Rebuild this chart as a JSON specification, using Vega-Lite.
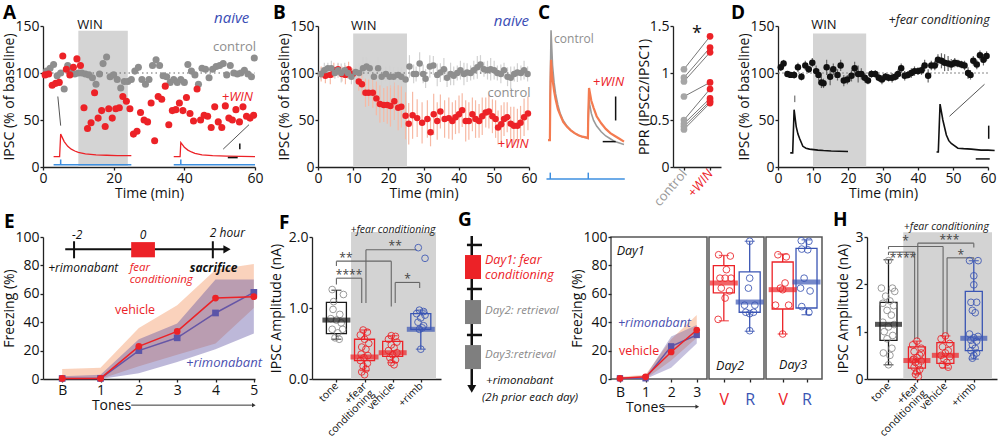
{
"$schema": "https://vega.github.io/schema/vega-lite/v6.json",
"background": "white",
"padding": {"left": 2, "top": 4, "right": 0, "bottom": 0},
"config": {
  "view": {"stroke": null},
  "font": "Open Sans",
  "axis": {"grid": false, "domainColor": "#222", "tickColor": "#222", "labelColor": "#111", "titleColor": "#111", "labelFontSize": 14, "titleFontSize": 14, "titleFontWeight": "normal", "labelFont": "Open Sans", "titleFont": "Open Sans", "domainWidth": 1.3, "tickWidth": 1.3, "tickSize": 3, "labelPadding": 1, "titlePadding": 0, "labelFlush": false, "labelOverlap": false},
  "axisY": {"titlePadding": -2},
  "axisX": {"titlePadding": 1},
  "title": {"fontSize": 19, "fontWeight": "bold", "anchor": "start", "font": "Open Sans", "color": "#000", "baseline": "alphabetic", "frame": "group"}
},
"spacing": 1,
"resolve": {"scale": {"color": "independent"}},
"vconcat": [
{
"bounds": "flush",
"spacing": 2,
"resolve": {"scale": {"color": "independent"}},
"hconcat": [
{
 "width": 212, "height": 141,
 "title": {"text": "A", "dx": -40, "offset": -12},
 "encoding": {
  "x": {"field": "x", "type": "quantitative", "scale": {"domain": [0, 60], "nice": false, "zero": false}, "axis": {"values": [0, 20, 40, 60], "title": "Time (min)"}},
  "y": {"field": "y", "type": "quantitative", "scale": {"domain": [0, 150], "nice": false, "zero": false}, "axis": {"values": [0, 50, 100, 150], "title": "IPSC (% of baseline)"}}
 },
 "layer": [
  {"data": {"values": [{"x": 10, "y": 0, "x2": 24, "y2": 145}]}, "mark": {"type": "rect", "color": "#d4d4d4"}, "encoding": {"x2": {"field": "x2"}, "y2": {"field": "y2"}}},
  {"data": {"values": [{"x": 0, "y": 100, "x2": 60, "y2": 100}]}, "mark": {"type": "rule", "color": "#666", "strokeDash": [1.5, 3], "strokeWidth": 1.2}, "encoding": {"x2": {"field": "x2"}, "y2": {"field": "y2"}}},
  {"data": {"values": [
    {"x": 3, "y": 11, "s": "a"}, {"x": 4.7, "y": 11, "s": "a"}, {"x": 5, "y": 35, "s": "a"}, {"x": 5.5, "y": 31, "s": "a"}, {"x": 6, "y": 27, "s": "a"}, {"x": 7, "y": 22, "s": "a"}, {"x": 8, "y": 19, "s": "a"}, {"x": 9, "y": 17, "s": "a"}, {"x": 10, "y": 15.5, "s": "a"}, {"x": 12, "y": 14, "s": "a"}, {"x": 15, "y": 13, "s": "a"}, {"x": 18, "y": 12.5, "s": "a"}, {"x": 21, "y": 12.2, "s": "a"}, {"x": 25, "y": 12, "s": "a"},
    {"x": 37, "y": 11, "s": "b"}, {"x": 38.8, "y": 11, "s": "b"}, {"x": 39, "y": 26, "s": "b"}, {"x": 39.5, "y": 23.5, "s": "b"}, {"x": 40, "y": 21, "s": "b"}, {"x": 41, "y": 18, "s": "b"}, {"x": 42, "y": 16, "s": "b"}, {"x": 43, "y": 14.5, "s": "b"}, {"x": 45, "y": 13, "s": "b"}, {"x": 48, "y": 12, "s": "b"}, {"x": 52, "y": 11.5, "s": "b"}, {"x": 56, "y": 11.2, "s": "b"}, {"x": 60, "y": 11, "s": "b"}
  ]}, "mark": {"type": "line", "color": "#ec2227", "strokeWidth": 1.3}, "encoding": {"detail": {"field": "s", "type": "nominal"}}},
  {"data": {"values": [{"x": 3, "y": 2.5, "x2": 25, "y2": 2.5}, {"x": 5, "y": 2.5, "x2": 5, "y2": 8}, {"x": 37, "y": 2.5, "x2": 60, "y2": 2.5}, {"x": 39, "y": 2.5, "x2": 39, "y2": 8}]}, "mark": {"type": "rule", "color": "#3d8fe0", "strokeWidth": 1.5}, "encoding": {"x2": {"field": "x2"}, "y2": {"field": "y2"}}},
  {"data": {"values": [{"x": 4.2, "y": 75, "x2": 5, "y2": 44}, {"x": 58.3, "y": 45, "x2": 51, "y2": 19}]}, "mark": {"type": "rule", "color": "#555", "strokeWidth": 1}, "encoding": {"x2": {"field": "x2"}, "y2": {"field": "y2"}}},
  {"data": {"values": [{"x": 55.7, "y": 19, "x2": 55.7, "y2": 25}, {"x": 52.3, "y": 10, "x2": 55.1, "y2": 10}]}, "mark": {"type": "rule", "color": "#111", "strokeWidth": 1.5}, "encoding": {"x2": {"field": "x2"}, "y2": {"field": "y2"}}},
  {"data": {"values": [
    {"x": 1, "y": 102, "g": "c"}, {"x": 2, "y": 105, "g": "c"}, {"x": 3, "y": 109, "g": "c"}, {"x": 4, "y": 97, "g": "c"}, {"x": 5, "y": 100, "g": "c"}, {"x": 6, "y": 83, "g": "c"}, {"x": 7, "y": 108, "g": "c"}, {"x": 8, "y": 104, "g": "c"}, {"x": 9, "y": 99, "g": "c"}, {"x": 10, "y": 100, "g": "c"},
    {"x": 11, "y": 100, "g": "c"}, {"x": 12, "y": 99, "g": "c"}, {"x": 13, "y": 98, "g": "c"}, {"x": 14, "y": 95, "g": "c"}, {"x": 15, "y": 88, "g": "c"}, {"x": 16, "y": 99, "g": "c"}, {"x": 17, "y": 110, "g": "c"}, {"x": 18, "y": 117, "g": "c"}, {"x": 19, "y": 96, "g": "c"}, {"x": 20, "y": 98, "g": "c"},
    {"x": 21, "y": 93, "g": "c"}, {"x": 22, "y": 84, "g": "c"}, {"x": 23, "y": 91, "g": "c"}, {"x": 24, "y": 91, "g": "c"}, {"x": 25, "y": 93, "g": "c"}, {"x": 26, "y": 102, "g": "c"}, {"x": 27, "y": 106, "g": "c"}, {"x": 28, "y": 93, "g": "c"}, {"x": 29, "y": 88, "g": "c"}, {"x": 30, "y": 93, "g": "c"},
    {"x": 31, "y": 108, "g": "c"}, {"x": 32, "y": 114, "g": "c"}, {"x": 33, "y": 108, "g": "c"}, {"x": 34, "y": 97, "g": "c"}, {"x": 35, "y": 96, "g": "c"}, {"x": 36, "y": 90, "g": "c"}, {"x": 37, "y": 93, "g": "c"}, {"x": 38, "y": 90, "g": "c"}, {"x": 39, "y": 93, "g": "c"}, {"x": 40, "y": 90, "g": "c"},
    {"x": 41, "y": 109, "g": "c"}, {"x": 42, "y": 102, "g": "c"}, {"x": 43, "y": 98, "g": "c"}, {"x": 44, "y": 88, "g": "c"}, {"x": 45, "y": 105, "g": "c"}, {"x": 46, "y": 104, "g": "c"}, {"x": 47, "y": 95, "g": "c"}, {"x": 48, "y": 104, "g": "c"}, {"x": 49, "y": 107, "g": "c"}, {"x": 50, "y": 108, "g": "c"},
    {"x": 51, "y": 110, "g": "c"}, {"x": 52, "y": 98, "g": "c"}, {"x": 53, "y": 108, "g": "c"}, {"x": 54, "y": 100, "g": "c"}, {"x": 55, "y": 99, "g": "c"}, {"x": 56, "y": 100, "g": "c"}, {"x": 57, "y": 103, "g": "c"}, {"x": 58, "y": 99, "g": "c"}, {"x": 59, "y": 96, "g": "c"}, {"x": 59.8, "y": 116, "g": "c"},
    {"x": 0.6, "y": 98, "g": "w"}, {"x": 1.6, "y": 99, "g": "w"}, {"x": 2.6, "y": 87, "g": "w"}, {"x": 3.6, "y": 89, "g": "w"}, {"x": 4.6, "y": 90, "g": "w"}, {"x": 5.6, "y": 118, "g": "w"}, {"x": 6.6, "y": 104, "g": "w"}, {"x": 7.6, "y": 98, "g": "w"}, {"x": 8.6, "y": 106, "g": "w"}, {"x": 9.6, "y": 115, "g": "w"},
    {"x": 10.6, "y": 108, "g": "w"}, {"x": 11.6, "y": 63, "g": "w"}, {"x": 12.6, "y": 41, "g": "w"}, {"x": 13.6, "y": 47, "g": "w"}, {"x": 14.6, "y": 79, "g": "w"}, {"x": 15.6, "y": 52, "g": "w"}, {"x": 16.6, "y": 60, "g": "w"}, {"x": 17.6, "y": 43, "g": "w"}, {"x": 18.6, "y": 62, "g": "w"}, {"x": 19.6, "y": 52, "g": "w"},
    {"x": 20.6, "y": 62, "g": "w"}, {"x": 21.6, "y": 63, "g": "w"}, {"x": 22.6, "y": 75, "g": "w"}, {"x": 23.6, "y": 70, "g": "w"}, {"x": 24.6, "y": 62, "g": "w"}, {"x": 25.6, "y": 35, "g": "w"}, {"x": 26.6, "y": 38, "g": "w"}, {"x": 27.6, "y": 58, "g": "w"}, {"x": 28.6, "y": 50, "g": "w"}, {"x": 29.6, "y": 48, "g": "w"},
    {"x": 30.6, "y": 68, "g": "w"}, {"x": 31.6, "y": 28, "g": "w"}, {"x": 32.6, "y": 75, "g": "w"}, {"x": 33.6, "y": 72, "g": "w"}, {"x": 34.6, "y": 86, "g": "w"}, {"x": 35.6, "y": 45, "g": "w"}, {"x": 36.6, "y": 60, "g": "w"}, {"x": 37.6, "y": 61, "g": "w"}, {"x": 38.6, "y": 68, "g": "w"}, {"x": 39.6, "y": 60, "g": "w"},
    {"x": 40.6, "y": 74, "g": "w"}, {"x": 41.6, "y": 57, "g": "w"}, {"x": 42.6, "y": 49, "g": "w"}, {"x": 43.6, "y": 83, "g": "w"}, {"x": 44.6, "y": 50, "g": "w"}, {"x": 45.6, "y": 55, "g": "w"}, {"x": 46.6, "y": 54, "g": "w"}, {"x": 47.6, "y": 42, "g": "w"}, {"x": 48.6, "y": 64, "g": "w"}, {"x": 49.6, "y": 48, "g": "w"},
    {"x": 50.6, "y": 42, "g": "w"}, {"x": 51.6, "y": 65, "g": "w"}, {"x": 52.6, "y": 52, "g": "w"}, {"x": 53.6, "y": 50, "g": "w"}, {"x": 54.6, "y": 61, "g": "w"}, {"x": 55.6, "y": 48, "g": "w"}, {"x": 56.6, "y": 64, "g": "w"}, {"x": 57.6, "y": 54, "g": "w"}, {"x": 58.6, "y": 52, "g": "w"}, {"x": 59.6, "y": 55, "g": "w"}
  ]}, "mark": {"type": "circle", "size": 50, "opacity": 1}, "encoding": {"color": {"field": "g", "type": "nominal", "scale": {"domain": ["c", "w"], "range": ["#8e8e8e", "#ec2227"]}, "legend": null}}},
  {"data": {"values": [{"x": 13.3, "y": 151, "t": "WIN"}]}, "mark": {"type": "text", "fontSize": 13, "color": "#111"}, "encoding": {"text": {"field": "t"}}},
  {"data": {"values": [{"x": 53.4, "y": 158, "t": "naive"}]}, "mark": {"type": "text", "fontSize": 15, "fontStyle": "italic", "color": "#3a4db5"}, "encoding": {"text": {"field": "t"}}},
  {"data": {"values": [{"x": 54.2, "y": 128, "t": "control"}]}, "mark": {"type": "text", "fontSize": 13, "color": "#8e8e8e"}, "encoding": {"text": {"field": "t"}}},
  {"data": {"values": [{"x": 55, "y": 75, "t": "+WIN"}]}, "mark": {"type": "text", "fontSize": 13, "fontStyle": "italic", "color": "#ec2227"}, "encoding": {"text": {"field": "t"}}}
 ]
},
{"width": 59, "height": 141, "data": {"values": []}, "mark": {"type": "point", "opacity": 0}, "encoding": {}},
{
 "width": 211, "height": 141,
 "title": {"text": "B", "dx": -45, "offset": -9},
 "encoding": {
  "x": {"field": "x", "type": "quantitative", "scale": {"domain": [0, 60], "nice": false, "zero": false}, "axis": {"values": [0, 10, 20, 30, 40, 50, 60], "title": "Time (min)"}},
  "y": {"field": "y", "type": "quantitative", "scale": {"domain": [0, 150], "nice": false, "zero": false}, "axis": {"values": [0, 50, 100, 150], "title": "IPSC (% of baseline)"}}
 },
 "layer": [
  {"data": {"values": [{"x": 10, "y": 0, "x2": 25.3, "y2": 142}]}, "mark": {"type": "rect", "color": "#d4d4d4"}, "encoding": {"x2": {"field": "x2"}, "y2": {"field": "y2"}}},
  {"data": {"values": [
    {"x": 0.9, "y": 99, "lo": 91, "hi": 107, "g": "w"}, {"x": 2.1, "y": 97, "lo": 89, "hi": 105, "g": "w"}, {"x": 3.5, "y": 98, "lo": 88, "hi": 108, "g": "w"}, {"x": 4.5, "y": 103, "lo": 95, "hi": 111, "g": "w"}, {"x": 5.7, "y": 104, "lo": 98, "hi": 110, "g": "w"}, {"x": 6.8, "y": 99, "lo": 91, "hi": 107, "g": "w"}, {"x": 7.8, "y": 98, "lo": 88, "hi": 108, "g": "w"}, {"x": 8.7, "y": 104, "lo": 96, "hi": 112, "g": "w"}, {"x": 9.9, "y": 99, "lo": 93, "hi": 105, "g": "w"},
    {"x": 11.6, "y": 91, "lo": 81, "hi": 101, "g": "w"}, {"x": 12.5, "y": 88, "lo": 76, "hi": 100, "g": "w"}, {"x": 13.5, "y": 79, "lo": 64, "hi": 94, "g": "w"}, {"x": 14.4, "y": 79, "lo": 65, "hi": 93, "g": "w"}, {"x": 15.6, "y": 79, "lo": 63, "hi": 95, "g": "w"}, {"x": 16.6, "y": 73, "lo": 55, "hi": 91, "g": "w"}, {"x": 17.6, "y": 67, "lo": 47, "hi": 87, "g": "w"}, {"x": 18.7, "y": 66, "lo": 48, "hi": 84, "g": "w"}, {"x": 19.7, "y": 66, "lo": 46, "hi": 86, "g": "w"}, {"x": 20.6, "y": 65, "lo": 43, "hi": 87, "g": "w"},
    {"x": 21.7, "y": 70, "lo": 50, "hi": 90, "g": "w"}, {"x": 22.8, "y": 63, "lo": 39, "hi": 87, "g": "w"}, {"x": 23.7, "y": 64, "lo": 42, "hi": 86, "g": "w"}, {"x": 24.9, "y": 54.5, "lo": 29.5, "hi": 79.5, "g": "w"}, {"x": 25.8, "y": 46, "lo": 24, "hi": 68, "g": "w"}, {"x": 26.9, "y": 55, "lo": 30, "hi": 80, "g": "w"}, {"x": 28.2, "y": 52, "lo": 32, "hi": 72, "g": "w"}, {"x": 29.6, "y": 47, "lo": 25, "hi": 69, "g": "w"}, {"x": 31.1, "y": 51, "lo": 31, "hi": 71, "g": "w"}, {"x": 32, "y": 37, "lo": 22, "hi": 52, "g": "w"},
    {"x": 32.9, "y": 56, "lo": 34, "hi": 78, "g": "w"}, {"x": 33.9, "y": 49, "lo": 29, "hi": 69, "g": "w"}, {"x": 34.8, "y": 59, "lo": 41, "hi": 77, "g": "w"}, {"x": 36, "y": 51, "lo": 31, "hi": 71, "g": "w"}, {"x": 37.2, "y": 52, "lo": 30, "hi": 74, "g": "w"}, {"x": 38.2, "y": 49, "lo": 29, "hi": 69, "g": "w"}, {"x": 39.1, "y": 53, "lo": 35, "hi": 71, "g": "w"}, {"x": 40.1, "y": 56, "lo": 36, "hi": 76, "g": "w"}, {"x": 41, "y": 60.5, "lo": 42.5, "hi": 78.5, "g": "w"}, {"x": 42, "y": 49, "lo": 27, "hi": 71, "g": "w"},
    {"x": 42.9, "y": 49, "lo": 29, "hi": 69, "g": "w"}, {"x": 43.9, "y": 56, "lo": 38, "hi": 74, "g": "w"}, {"x": 44.8, "y": 51, "lo": 31, "hi": 71, "g": "w"}, {"x": 45.8, "y": 49, "lo": 31, "hi": 67, "g": "w"}, {"x": 46.7, "y": 54, "lo": 34, "hi": 74, "g": "w"}, {"x": 47.7, "y": 58, "lo": 42, "hi": 74, "g": "w"}, {"x": 48.6, "y": 59, "lo": 41, "hi": 77, "g": "w"}, {"x": 49.6, "y": 54, "lo": 36, "hi": 72, "g": "w"}, {"x": 50.5, "y": 51, "lo": 31, "hi": 71, "g": "w"}, {"x": 51.2, "y": 42, "lo": 24, "hi": 60, "g": "w"},
    {"x": 52.1, "y": 45.6, "lo": 25.6, "hi": 65.6, "g": "w"}, {"x": 52.9, "y": 51, "lo": 33, "hi": 69, "g": "w"}, {"x": 53.8, "y": 53, "lo": 37, "hi": 69, "g": "w"}, {"x": 54.8, "y": 46, "lo": 28, "hi": 64, "g": "w"}, {"x": 55.7, "y": 44, "lo": 24, "hi": 64, "g": "w"}, {"x": 56.7, "y": 44, "lo": 26, "hi": 62, "g": "w"}, {"x": 57.6, "y": 47, "lo": 29, "hi": 65, "g": "w"}, {"x": 58.6, "y": 53, "lo": 33, "hi": 73, "g": "w"}, {"x": 59.7, "y": 57, "lo": 39, "hi": 75, "g": "w"},
    {"x": 0.8, "y": 99, "lo": 93, "hi": 105, "g": "c"}, {"x": 1.8, "y": 103, "lo": 95, "hi": 111, "g": "c"}, {"x": 2.8, "y": 105, "lo": 99, "hi": 111, "g": "c"}, {"x": 3.8, "y": 105, "lo": 97, "hi": 113, "g": "c"}, {"x": 4.8, "y": 100, "lo": 94, "hi": 106, "g": "c"}, {"x": 5.7, "y": 103, "lo": 95, "hi": 111, "g": "c"}, {"x": 6.6, "y": 100, "lo": 90, "hi": 110, "g": "c"}, {"x": 7.6, "y": 103, "lo": 95, "hi": 111, "g": "c"}, {"x": 8.5, "y": 100, "lo": 94, "hi": 106, "g": "c"}, {"x": 9.5, "y": 96, "lo": 88, "hi": 104, "g": "c"},
    {"x": 10.7, "y": 101, "lo": 93, "hi": 109, "g": "c"}, {"x": 11.7, "y": 100, "lo": 90, "hi": 110, "g": "c"}, {"x": 12.8, "y": 105, "lo": 93, "hi": 117, "g": "c"}, {"x": 13.8, "y": 107, "lo": 97, "hi": 117, "g": "c"}, {"x": 14.7, "y": 105, "lo": 97, "hi": 113, "g": "c"}, {"x": 15.9, "y": 96, "lo": 86, "hi": 106, "g": "c"}, {"x": 17.1, "y": 105, "lo": 93, "hi": 117, "g": "c"}, {"x": 18.1, "y": 96, "lo": 86, "hi": 106, "g": "c"}, {"x": 19.3, "y": 99, "lo": 91, "hi": 107, "g": "c"}, {"x": 20.4, "y": 96, "lo": 84, "hi": 108, "g": "c"},
    {"x": 21.5, "y": 96, "lo": 86, "hi": 106, "g": "c"}, {"x": 22.8, "y": 98, "lo": 90, "hi": 106, "g": "c"}, {"x": 23.7, "y": 96, "lo": 86, "hi": 106, "g": "c"}, {"x": 24.9, "y": 93, "lo": 85, "hi": 101, "g": "c"}, {"x": 26, "y": 107, "lo": 95, "hi": 119, "g": "c"}, {"x": 27.2, "y": 99, "lo": 89, "hi": 109, "g": "c"}, {"x": 27.9, "y": 99, "lo": 91, "hi": 107, "g": "c"}, {"x": 28.9, "y": 110, "lo": 98, "hi": 122, "g": "c"}, {"x": 29.9, "y": 99, "lo": 89, "hi": 109, "g": "c"}, {"x": 30.6, "y": 94, "lo": 84, "hi": 104, "g": "c"},
    {"x": 31.8, "y": 107, "lo": 95, "hi": 119, "g": "c"}, {"x": 32.8, "y": 108, "lo": 98, "hi": 118, "g": "c"}, {"x": 33.9, "y": 98, "lo": 86, "hi": 110, "g": "c"}, {"x": 34.8, "y": 100.5, "lo": 90.5, "hi": 110.5, "g": "c"}, {"x": 35.8, "y": 104, "lo": 92, "hi": 116, "g": "c"}, {"x": 36.7, "y": 95, "lo": 85, "hi": 105, "g": "c"}, {"x": 37.7, "y": 99, "lo": 87, "hi": 111, "g": "c"}, {"x": 38.6, "y": 97, "lo": 87, "hi": 107, "g": "c"}, {"x": 39.6, "y": 100, "lo": 92, "hi": 108, "g": "c"}, {"x": 40.5, "y": 103, "lo": 93, "hi": 113, "g": "c"},
    {"x": 41.5, "y": 99, "lo": 87, "hi": 111, "g": "c"}, {"x": 42.4, "y": 100.5, "lo": 90.5, "hi": 110.5, "g": "c"}, {"x": 43.4, "y": 100, "lo": 92, "hi": 108, "g": "c"}, {"x": 44.3, "y": 103, "lo": 93, "hi": 113, "g": "c"}, {"x": 45.3, "y": 106, "lo": 94, "hi": 118, "g": "c"}, {"x": 46.2, "y": 109, "lo": 99, "hi": 119, "g": "c"}, {"x": 47.2, "y": 104, "lo": 96, "hi": 112, "g": "c"}, {"x": 48.2, "y": 103, "lo": 93, "hi": 113, "g": "c"}, {"x": 49.1, "y": 104, "lo": 92, "hi": 116, "g": "c"}, {"x": 50.1, "y": 103, "lo": 93, "hi": 113, "g": "c"},
    {"x": 51, "y": 100, "lo": 92, "hi": 108, "g": "c"}, {"x": 52, "y": 99, "lo": 89, "hi": 109, "g": "c"}, {"x": 52.9, "y": 103, "lo": 95, "hi": 111, "g": "c"}, {"x": 53.9, "y": 96, "lo": 86, "hi": 106, "g": "c"}, {"x": 54.8, "y": 95, "lo": 83, "hi": 107, "g": "c"}, {"x": 55.8, "y": 99, "lo": 91, "hi": 107, "g": "c"}, {"x": 56.7, "y": 100.5, "lo": 90.5, "hi": 110.5, "g": "c"}, {"x": 57.7, "y": 100, "lo": 92, "hi": 108, "g": "c"}, {"x": 58.6, "y": 103, "lo": 93, "hi": 113, "g": "c"}, {"x": 59.6, "y": 99, "lo": 91, "hi": 107, "g": "c"}
  ]},
  "resolve": {"scale": {"color": "independent"}},
  "layer": [
   {"mark": {"type": "rule", "strokeWidth": 1.2}, "encoding": {"y": {"field": "lo", "type": "quantitative"}, "y2": {"field": "hi"}, "color": {"field": "g", "type": "nominal", "scale": {"domain": ["c", "w"], "range": ["#d2d2d2", "#f7b9a4"]}, "legend": null}}},
   {"data": {"values": [{"x": 0, "y": 100, "x2": 60, "y2": 100}]}, "mark": {"type": "rule", "color": "#666", "strokeDash": [1.5, 3], "strokeWidth": 1.2}, "encoding": {"x2": {"field": "x2"}, "y2": {"field": "y2"}}},
   {"mark": {"type": "circle", "size": 42, "opacity": 1}, "encoding": {"color": {"field": "g", "type": "nominal", "scale": {"domain": ["c", "w"], "range": ["#8e8e8e", "#ec2227"]}, "legend": null}}}
  ]},
  {"data": {"values": [{"x": 13, "y": 150, "t": "WIN"}]}, "mark": {"type": "text", "fontSize": 13, "color": "#111"}, "encoding": {"text": {"field": "t"}}},
  {"data": {"values": [{"x": 55, "y": 155, "t": "naive"}]}, "mark": {"type": "text", "fontSize": 15, "fontStyle": "italic", "color": "#3a4db5"}, "encoding": {"text": {"field": "t"}}},
  {"data": {"values": [{"x": 54.3, "y": 79, "t": "control"}]}, "mark": {"type": "text", "fontSize": 13, "color": "#8e8e8e"}, "encoding": {"text": {"field": "t"}}},
  {"data": {"values": [{"x": 55.5, "y": 24, "t": "+WIN"}]}, "mark": {"type": "text", "fontSize": 13, "fontStyle": "italic", "color": "#ec2227"}, "encoding": {"text": {"field": "t"}}}
 ]
},
{"width": 15, "height": 141, "data": {"values": []}, "mark": {"type": "point", "opacity": 0}, "encoding": {}},
{
 "width": 76, "height": 141,
 "title": {"text": "C", "dx": -10, "offset": 3},
 "encoding": {
  "x": {"field": "x", "type": "quantitative", "scale": {"domain": [0, 100], "nice": false, "zero": false}, "axis": null},
  "y": {"field": "y", "type": "quantitative", "scale": {"domain": [0, 100], "nice": false, "zero": false}, "axis": null}
 },
 "layer": [
  {"data": {"values": [{"x": 0, "y": 19}, {"x": 2.5, "y": 19}, {"x": 3, "y": 60}, {"x": 4, "y": 97}, {"x": 5, "y": 84}, {"x": 6, "y": 72}, {"x": 8, "y": 60}, {"x": 10, "y": 52}, {"x": 13, "y": 44}, {"x": 16, "y": 38}, {"x": 20, "y": 33}, {"x": 25, "y": 29}, {"x": 30, "y": 26}, {"x": 35, "y": 24}, {"x": 40, "y": 22.5}, {"x": 45, "y": 21.5}, {"x": 50, "y": 20.8}, {"x": 52.5, "y": 20.5}, {"x": 53, "y": 34}, {"x": 54, "y": 48}, {"x": 55, "y": 44}, {"x": 57, "y": 38}, {"x": 60, "y": 33}, {"x": 64, "y": 29}, {"x": 70, "y": 25}, {"x": 76, "y": 22}, {"x": 82, "y": 20}, {"x": 88, "y": 18}, {"x": 94, "y": 17}, {"x": 100, "y": 16}]}, "mark": {"type": "line", "color": "#9a9a9a", "strokeWidth": 1.6}, "encoding": {}},
  {"data": {"values": [{"x": 0, "y": 19}, {"x": 2.5, "y": 19}, {"x": 3, "y": 50}, {"x": 4, "y": 76}, {"x": 5, "y": 68}, {"x": 6, "y": 62}, {"x": 8, "y": 54}, {"x": 10, "y": 48}, {"x": 13, "y": 41}, {"x": 16, "y": 37}, {"x": 20, "y": 32}, {"x": 25, "y": 28.5}, {"x": 30, "y": 26}, {"x": 35, "y": 24}, {"x": 40, "y": 22.5}, {"x": 45, "y": 21.5}, {"x": 50, "y": 21}, {"x": 52.5, "y": 20.5}, {"x": 53, "y": 38}, {"x": 54, "y": 56}, {"x": 55, "y": 53}, {"x": 57, "y": 47}, {"x": 60, "y": 42}, {"x": 64, "y": 36}, {"x": 70, "y": 31}, {"x": 76, "y": 27}, {"x": 82, "y": 24}, {"x": 88, "y": 22}, {"x": 94, "y": 20}, {"x": 100, "y": 18}]}, "mark": {"type": "line", "color": "#f47b50", "strokeWidth": 2.2}, "encoding": {}},
  {"data": {"values": [{"x": -2, "y": -8.5, "x2": 101, "y2": -8.5}, {"x": 3, "y": -8.5, "x2": 3, "y2": -4}, {"x": 53, "y": -8.5, "x2": 53, "y2": -4}]}, "mark": {"type": "rule", "color": "#3d8fe0", "strokeWidth": 1.5}, "encoding": {"x2": {"field": "x2"}, "y2": {"field": "y2"}}},
  {"data": {"values": [{"x": 89, "y": 33, "x2": 89, "y2": 50}, {"x": 72, "y": 18, "x2": 89, "y2": 18}]}, "mark": {"type": "rule", "color": "#111", "strokeWidth": 1.5}, "encoding": {"x2": {"field": "x2"}, "y2": {"field": "y2"}}},
  {"data": {"values": [{"x": 8, "y": 91, "t": "control"}]}, "mark": {"type": "text", "fontSize": 12, "align": "left", "color": "#8e8e8e"}, "encoding": {"text": {"field": "t"}}},
  {"data": {"values": [{"x": 59, "y": 60, "t": "+WIN"}]}, "mark": {"type": "text", "fontSize": 13, "align": "left", "fontStyle": "italic", "color": "#ec2227"}, "encoding": {"text": {"field": "t"}}}
 ]
},
{"width": 45, "height": 141, "data": {"values": []}, "mark": {"type": "point", "opacity": 0}, "encoding": {}},
{
 "width": 48, "height": 141,
 "encoding": {
  "x": {"field": "x", "type": "quantitative", "scale": {"domain": [-0.42, 1.42], "nice": false, "zero": false}, "axis": {"values": [0, 1], "title": null, "labelExpr": "datum.value == 0 ? 'control' : '+WIN'", "labelAngle": -50, "labelFontSize": 13, "labelColor": {"condition": {"test": "datum.value == 1", "value": "#ec2227"}, "value": "#999"}, "labelFontStyle": {"condition": {"test": "datum.value == 1", "value": "italic"}, "value": "normal"}}},
  "y": {"field": "y", "type": "quantitative", "scale": {"domain": [0, 1.5], "nice": false, "zero": false}, "axis": {"values": [0, 0.5, 1, 1.5], "format": "~g", "title": "PPR (IPSC2/IPSC1)"}}
 },
 "layer": [
  {"data": {"values": [{"x": 0, "y": 1.04, "x2": 1, "y2": 1.39}, {"x": 0, "y": 0.95, "x2": 1, "y2": 1.27}, {"x": 0, "y": 0.91, "x2": 1, "y2": 1.22}, {"x": 0, "y": 0.75, "x2": 1, "y2": 0.9}, {"x": 0, "y": 0.5, "x2": 1, "y2": 0.83}, {"x": 0, "y": 0.46, "x2": 1, "y2": 0.73}, {"x": 0, "y": 0.43, "x2": 1, "y2": 0.7}, {"x": 0, "y": 0.4, "x2": 1, "y2": 0.68}]}, "mark": {"type": "rule", "color": "#777", "strokeWidth": 1}, "encoding": {"x2": {"field": "x2"}, "y2": {"field": "y2"}}},
  {"data": {"values": [{"x": 0, "y": 1.04, "g": "c"}, {"x": 0, "y": 0.95, "g": "c"}, {"x": 0, "y": 0.91, "g": "c"}, {"x": 0, "y": 0.75, "g": "c"}, {"x": 0, "y": 0.5, "g": "c"}, {"x": 0, "y": 0.46, "g": "c"}, {"x": 0, "y": 0.43, "g": "c"}, {"x": 0, "y": 0.4, "g": "c"}, {"x": 1, "y": 1.39, "g": "w"}, {"x": 1, "y": 1.27, "g": "w"}, {"x": 1, "y": 1.22, "g": "w"}, {"x": 1, "y": 0.9, "g": "w"}, {"x": 1, "y": 0.83, "g": "w"}, {"x": 1, "y": 0.73, "g": "w"}, {"x": 1, "y": 0.7, "g": "w"}, {"x": 1, "y": 0.68, "g": "w"}]}, "mark": {"type": "circle", "size": 45, "opacity": 1}, "encoding": {"color": {"field": "g", "type": "nominal", "scale": {"domain": ["c", "w"], "range": ["#a6a6a6", "#ec2227"]}, "legend": null}}},
  {"data": {"values": [{"x": 0.5, "y": 1.42, "t": "*"}]}, "mark": {"type": "text", "fontSize": 18, "color": "#111"}, "encoding": {"text": {"field": "t"}}}
 ]
},
{"width": 53, "height": 141, "data": {"values": []}, "mark": {"type": "point", "opacity": 0}, "encoding": {}},
{
 "width": 210, "height": 141,
 "title": {"text": "D", "dx": -47, "offset": -9},
 "encoding": {
  "x": {"field": "x", "type": "quantitative", "scale": {"domain": [0, 60], "nice": false, "zero": false}, "axis": {"values": [0, 10, 20, 30, 40, 50, 60], "title": "Time (min)"}},
  "y": {"field": "y", "type": "quantitative", "scale": {"domain": [0, 150], "nice": false, "zero": false}, "axis": {"values": [0, 50, 100, 150], "title": "IPSC (% of baseline)"}}
 },
 "layer": [
  {"data": {"values": [{"x": 10, "y": 0, "x2": 25.2, "y2": 142}]}, "mark": {"type": "rect", "color": "#d4d4d4"}, "encoding": {"x2": {"field": "x2"}, "y2": {"field": "y2"}}},
  {"data": {"values": [{"x": 0, "y": 100, "x2": 60, "y2": 100}]}, "mark": {"type": "rule", "color": "#888", "strokeDash": [2, 2], "strokeWidth": 1}, "encoding": {"x2": {"field": "x2"}, "y2": {"field": "y2"}}},
  {"data": {"values": [
    {"x": 3.5, "y": 15, "s": "a"}, {"x": 4.2, "y": 15, "s": "a"}, {"x": 4.6, "y": 61, "s": "a"}, {"x": 5.2, "y": 43, "s": "a"}, {"x": 5.7, "y": 35, "s": "a"}, {"x": 6.2, "y": 30, "s": "a"}, {"x": 7.1, "y": 22, "s": "a"}, {"x": 8, "y": 20, "s": "a"}, {"x": 9, "y": 19, "s": "a"}, {"x": 11.4, "y": 18, "s": "a"}, {"x": 13, "y": 17.5, "s": "a"}, {"x": 15.2, "y": 17, "s": "a"}, {"x": 17.5, "y": 16.8, "s": "a"}, {"x": 20, "y": 16.5, "s": "a"},
    {"x": 45.3, "y": 16, "s": "b"}, {"x": 45.8, "y": 16, "s": "b"}, {"x": 46.3, "y": 67, "s": "b"}, {"x": 47.1, "y": 50, "s": "b"}, {"x": 48.1, "y": 34, "s": "b"}, {"x": 48.8, "y": 28, "s": "b"}, {"x": 49.5, "y": 25, "s": "b"}, {"x": 51.4, "y": 20, "s": "b"}, {"x": 53, "y": 19.5, "s": "b"}, {"x": 55.2, "y": 19, "s": "b"}, {"x": 58, "y": 18, "s": "b"}, {"x": 60, "y": 18, "s": "b"}, {"x": 61.9, "y": 17.5, "s": "b"}
  ]}, "mark": {"type": "line", "color": "#111", "strokeWidth": 1.6}, "encoding": {"detail": {"field": "s", "type": "nominal"}}},
  {"data": {"values": [{"x": 4.8, "y": 76, "x2": 4.8, "y2": 69}, {"x": 59, "y": 88, "x2": 49, "y2": 54}]}, "mark": {"type": "rule", "color": "#555", "strokeWidth": 1}, "encoding": {"x2": {"field": "x2"}, "y2": {"field": "y2"}}},
  {"data": {"values": [{"x": 60.2, "y": 30, "x2": 60.2, "y2": 44}, {"x": 56.5, "y": 8.6, "x2": 60.5, "y2": 8.6}]}, "mark": {"type": "rule", "color": "#111", "strokeWidth": 1.5}, "encoding": {"x2": {"field": "x2"}, "y2": {"field": "y2"}}},
  {"data": {"values": [
    {"x": 0.8, "y": 106, "lo": 102, "hi": 110}, {"x": 1.6, "y": 110, "lo": 106, "hi": 114}, {"x": 2.7, "y": 99, "lo": 96, "hi": 102}, {"x": 3.6, "y": 98, "lo": 95, "hi": 101}, {"x": 4.6, "y": 98, "lo": 94, "hi": 102}, {"x": 5.7, "y": 106, "lo": 101, "hi": 111}, {"x": 6.7, "y": 96, "lo": 92, "hi": 100}, {"x": 7.8, "y": 108, "lo": 103, "hi": 113}, {"x": 8.8, "y": 104, "lo": 100, "hi": 108}, {"x": 9.8, "y": 111, "lo": 106, "hi": 116},
    {"x": 10.9, "y": 102, "lo": 96, "hi": 108}, {"x": 11.6, "y": 98, "lo": 92, "hi": 104}, {"x": 12.4, "y": 90, "lo": 84, "hi": 96}, {"x": 13, "y": 89, "lo": 84, "hi": 94}, {"x": 13.9, "y": 106, "lo": 98, "hi": 114}, {"x": 14.9, "y": 96, "lo": 87, "hi": 105}, {"x": 15.8, "y": 104, "lo": 98, "hi": 110}, {"x": 17, "y": 98, "lo": 92, "hi": 104}, {"x": 17.9, "y": 108, "lo": 102, "hi": 114}, {"x": 18.8, "y": 92, "lo": 86, "hi": 98},
    {"x": 19.8, "y": 93, "lo": 88, "hi": 98}, {"x": 21, "y": 97, "lo": 91, "hi": 103}, {"x": 21.9, "y": 105, "lo": 98, "hi": 112}, {"x": 22.9, "y": 99, "lo": 90, "hi": 108}, {"x": 23.8, "y": 99, "lo": 93, "hi": 105}, {"x": 24.8, "y": 95, "lo": 90, "hi": 100}, {"x": 25.7, "y": 92, "lo": 88, "hi": 96}, {"x": 26.7, "y": 99, "lo": 95, "hi": 103}, {"x": 27.8, "y": 99, "lo": 95, "hi": 103}, {"x": 28.8, "y": 95, "lo": 91, "hi": 99},
    {"x": 29.7, "y": 93, "lo": 88, "hi": 98}, {"x": 30.7, "y": 96, "lo": 92, "hi": 100}, {"x": 31.6, "y": 95, "lo": 91, "hi": 99}, {"x": 32.6, "y": 95, "lo": 90, "hi": 100}, {"x": 33.5, "y": 96, "lo": 92, "hi": 100}, {"x": 34.3, "y": 99, "lo": 94, "hi": 104}, {"x": 35.2, "y": 105, "lo": 100, "hi": 110}, {"x": 36.2, "y": 97, "lo": 92, "hi": 102}, {"x": 37.1, "y": 98, "lo": 94, "hi": 102}, {"x": 38.1, "y": 100, "lo": 95, "hi": 105},
    {"x": 39, "y": 102, "lo": 97, "hi": 107}, {"x": 40, "y": 102, "lo": 98, "hi": 106}, {"x": 41, "y": 103, "lo": 98, "hi": 108}, {"x": 41.9, "y": 108, "lo": 102, "hi": 114}, {"x": 42.9, "y": 97, "lo": 90, "hi": 104}, {"x": 43.8, "y": 108, "lo": 103, "hi": 113}, {"x": 44.8, "y": 108, "lo": 103, "hi": 113}, {"x": 45.7, "y": 114, "lo": 108, "hi": 120}, {"x": 46.7, "y": 113, "lo": 105, "hi": 121}, {"x": 47.6, "y": 111, "lo": 102, "hi": 120},
    {"x": 48.6, "y": 110, "lo": 102, "hi": 118}, {"x": 49.5, "y": 109, "lo": 103, "hi": 115}, {"x": 50.5, "y": 111, "lo": 106, "hi": 116}, {"x": 51.4, "y": 110, "lo": 106, "hi": 114}, {"x": 52.4, "y": 109, "lo": 105, "hi": 113}, {"x": 53.3, "y": 108, "lo": 103, "hi": 113}, {"x": 54.3, "y": 100, "lo": 94, "hi": 106}, {"x": 55, "y": 98, "lo": 93, "hi": 103}, {"x": 55.8, "y": 113, "lo": 108, "hi": 118}, {"x": 56.8, "y": 109, "lo": 104, "hi": 114},
    {"x": 57.7, "y": 119, "lo": 114, "hi": 124}, {"x": 58.7, "y": 114, "lo": 108, "hi": 120}, {"x": 59.6, "y": 118, "lo": 113, "hi": 123}
  ]},
  "layer": [
   {"mark": {"type": "rule", "color": "#666", "strokeWidth": 1.2}, "encoding": {"y": {"field": "lo", "type": "quantitative"}, "y2": {"field": "hi"}}},
   {"mark": {"type": "circle", "size": 42, "opacity": 1, "color": "#111"}, "encoding": {}}
  ]},
  {"data": {"values": [{"x": 13.1, "y": 151, "t": "WIN"}]}, "mark": {"type": "text", "fontSize": 13, "color": "#111"}, "encoding": {"text": {"field": "t"}}},
  {"data": {"values": [{"x": 60.5, "y": 156, "t": "+fear conditioning"}]}, "mark": {"type": "text", "fontSize": 12.5, "align": "right", "fontStyle": "italic", "color": "#222"}, "encoding": {"text": {"field": "t"}}}
 ]
}
]
},
{
"bounds": "flush",
"spacing": 2,
"resolve": {"scale": {"color": "independent"}},
"hconcat": [
{
 "width": 212, "height": 142,
 "title": {"text": "E", "dx": -39, "offset": -5},
 "encoding": {
  "x": {"field": "x", "type": "quantitative", "scale": {"domain": [-0.5, 5.03], "nice": false, "zero": false}, "axis": {"values": [0, 1, 2, 3, 4, 5], "labelExpr": "datum.value == 0 ? 'B' : datum.label", "title": "Tones", "titleX": 68, "titleY": 26, "titleAlign": "center", "titleBaseline": "middle"}},
  "y": {"field": "y", "type": "quantitative", "scale": {"domain": [0, 100], "nice": false, "zero": false}, "axis": {"values": [0, 20, 40, 60, 80, 100], "title": "Freezing (%)"}}
 },
 "layer": [
  {"data": {"values": [{"x": 0, "y": 0, "y2": 7}, {"x": 1, "y": 0, "y2": 8}, {"x": 2, "y": 9, "y2": 36}, {"x": 3, "y": 17, "y2": 52}, {"x": 4, "y": 25, "y2": 77}, {"x": 5, "y": 50, "y2": 81}]}, "mark": {"type": "area", "color": "#f7b48f", "opacity": 0.6}, "encoding": {"y2": {"field": "y2"}}},
  {"data": {"values": [{"x": 0, "y": 0, "y2": 2}, {"x": 1, "y": 0, "y2": 3}, {"x": 2, "y": 4, "y2": 28}, {"x": 3, "y": 12, "y2": 39}, {"x": 4, "y": 21, "y2": 70}, {"x": 5, "y": 32, "y2": 70}]}, "mark": {"type": "area", "color": "#5b4ea0", "opacity": 0.4}, "encoding": {"y2": {"field": "y2"}}},
  {"data": {"values": [{"x": 0, "y": 0.4}, {"x": 1, "y": 0.4}, {"x": 2, "y": 20}, {"x": 3, "y": 29}, {"x": 4, "y": 46.5}, {"x": 5, "y": 61}]}, "mark": {"type": "line", "color": "#6656a6", "strokeWidth": 1.5, "point": {"shape": "square", "filled": true, "size": 45, "color": "#5b55a8"}}, "encoding": {}},
  {"data": {"values": [{"x": 0, "y": 0.4}, {"x": 1, "y": 0.4}, {"x": 2, "y": 23}, {"x": 3, "y": 33.5}, {"x": 4, "y": 57}, {"x": 5, "y": 58}]}, "mark": {"type": "line", "color": "#ec2227", "strokeWidth": 1.5, "point": {"filled": true, "size": 45, "color": "#ec2227"}}, "encoding": {}},
  {"data": {"values": [{"x": 0.08, "y": 91.3, "x2": 4.25, "y2": 91.3}, {"x": 0.31, "y": 85, "x2": 0.31, "y2": 97}, {"x": 3.93, "y": 85, "x2": 3.93, "y2": 97}]}, "mark": {"type": "rule", "color": "#111", "strokeWidth": 2}, "encoding": {"x2": {"field": "x2"}, "y2": {"field": "y2"}}},
  {"data": {"values": [{"x": 4.3, "y": 91.3}]}, "mark": {"type": "point", "shape": "triangle-right", "filled": true, "size": 70, "color": "#111", "opacity": 1}, "encoding": {}},
  {"data": {"values": [{"x": 1.8, "y": 85.7, "x2": 2.42, "y2": 96.4}]}, "mark": {"type": "rect", "color": "#ec2227"}, "encoding": {"x2": {"field": "x2"}, "y2": {"field": "y2"}}},
  {"data": {"values": [{"x": 1.8, "y": -18.4, "x2": 4.95, "y2": -18.4}]}, "mark": {"type": "rule", "color": "#333", "strokeWidth": 1}, "encoding": {"x2": {"field": "x2"}, "y2": {"field": "y2"}}},
  {"data": {"values": [{"x": 5.0, "y": -18.4}]}, "mark": {"type": "point", "shape": "triangle-right", "filled": true, "size": 18, "color": "#333", "opacity": 1}, "encoding": {}},
  {"data": {"values": [{"x": 0.39, "y": 101.4, "t": "-2"}, {"x": 2.11, "y": 101.4, "t": "0"}, {"x": 4.31, "y": 102.9, "t": "2  hour"}, {"x": 0.55, "y": 77.9, "t": "+rimonabant"}]}, "mark": {"type": "text", "fontSize": 12, "fontStyle": "italic", "color": "#111"}, "encoding": {"text": {"field": "t"}}},
  {"data": {"values": [{"x": 3.95, "y": 77.9, "t": "sacrifice"}]}, "mark": {"type": "text", "fontSize": 12, "fontStyle": "italic", "fontWeight": "bold", "color": "#111"}, "encoding": {"text": {"field": "t"}}},
  {"data": {"values": [{"x": 1.76, "y": 78.5, "t": "fear"}, {"x": 1.76, "y": 69.5, "t": "conditioning"}]}, "mark": {"type": "text", "fontSize": 11.5, "fontStyle": "italic", "align": "left", "color": "#ec2227"}, "encoding": {"text": {"field": "t"}}},
  {"data": {"values": [{"x": 1.9, "y": 48.6, "t": "vehicle"}]}, "mark": {"type": "text", "fontSize": 12.5, "color": "#ec2227"}, "encoding": {"text": {"field": "t"}}},
  {"data": {"values": [{"x": 4.22, "y": 11.4, "t": "+rimonabant"}]}, "mark": {"type": "text", "fontSize": 13, "fontStyle": "italic", "color": "#4b50b0"}, "encoding": {"text": {"field": "t"}}}
 ]
},
{"width": 53, "height": 142, "data": {"values": []}, "mark": {"type": "point", "opacity": 0}, "encoding": {}},
{
 "width": 129, "height": 142,
 "title": {"text": "F", "dx": -33, "offset": -8},
 "resolve": {"scale": {"color": "independent"}},
 "encoding": {
  "x": {"field": "x", "type": "quantitative", "scale": {"domain": [-0.69, 3.54], "nice": false, "zero": false}, "axis": {"values": [0, 1, 2, 3], "title": null, "labelExpr": "[['tone'], ['+fear', 'conditioning'], ['vehicle'], ['+rimb']][datum.value]", "labelAngle": -45, "labelFontSize": 10.5, "labelLineHeight": 10.5, "labelBaseline": "middle", "labelPadding": 2}},
  "y": {"field": "y", "type": "quantitative", "scale": {"domain": [0, 2], "nice": false, "zero": false}, "axis": {"values": [0, 1, 2], "title": "IPSC Amplitude (nA)", "titlePadding": 5}}
 },
 "layer": [
  {"data": {"values": [{"x": 0.52, "y": 0, "x2": 3.54, "y2": 2.07}]}, "mark": {"type": "rect", "color": "#d3d3d3"}, "encoding": {"x2": {"field": "x2"}, "y2": {"field": "y2"}}},
  {"data": {"values": [{"x": 0.5, "y": 2.1, "t": "+fear conditioning"}]}, "mark": {"type": "text", "fontSize": 10.5, "fontStyle": "italic", "align": "left", "color": "#222"}, "encoding": {"text": {"field": "t"}}},
  {"data": {"values": [
    {"x": 0, "y": 1.33, "x2": 0, "y2": 1.42}, {"x": 0, "y": 1.42, "x2": 0.9, "y2": 1.42}, {"x": 0.9, "y": 1.42, "x2": 0.9, "y2": 1.07},
    {"x": 0, "y": 1.59, "x2": 0, "y2": 1.66}, {"x": 0, "y": 1.66, "x2": 1.95, "y2": 1.66}, {"x": 1.95, "y": 1.66, "x2": 1.95, "y2": 1.02},
    {"x": 1.05, "y": 1.07, "x2": 1.05, "y2": 1.82}, {"x": 1.05, "y": 1.82, "x2": 2.85, "y2": 1.82},
    {"x": 2.09, "y": 1.07, "x2": 2.09, "y2": 1.36}, {"x": 2.09, "y": 1.36, "x2": 2.96, "y2": 1.36}, {"x": 2.96, "y": 1.36, "x2": 2.96, "y2": 1.28}
  ]}, "mark": {"type": "rule", "color": "#666", "strokeWidth": 1.1}, "encoding": {"x2": {"field": "x2"}, "y2": {"field": "y2"}}},
  {"data": {"values": [{"x": 0.45, "y": 1.47, "t": "****"}, {"x": 0.34, "y": 1.71, "t": "**"}, {"x": 2.09, "y": 1.87, "t": "**"}, {"x": 2.53, "y": 1.41, "t": "*"}]}, "mark": {"type": "text", "fontSize": 12, "color": "#444"}, "encoding": {"text": {"field": "t"}}},
  {"data": {"values": [{"x": 0, "lo": 0.56, "q1": 0.64, "med": 0.83, "q3": 1.08, "hi": 1.25, "g": "t"}, {"x": 1, "lo": 0.12, "q1": 0.26, "med": 0.31, "q3": 0.56, "hi": 0.69, "g": "f"}, {"x": 2, "lo": 0.23, "q1": 0.32, "med": 0.37, "q3": 0.53, "hi": 0.61, "g": "v"}, {"x": 3, "lo": 0.42, "q1": 0.7, "med": 0.7, "q3": 0.92, "hi": 0.97, "g": "r"}]},
   "layer": [
    {"mark": {"type": "rule", "strokeWidth": 1.3}, "encoding": {"y": {"field": "lo", "type": "quantitative"}, "y2": {"field": "q1"}, "color": {"field": "g", "type": "nominal", "scale": {"domain": ["t", "f", "v", "r"], "range": ["#1a1a1a", "#ec2227", "#ec2227", "#3a55b4"]}, "legend": null}}},
    {"mark": {"type": "rule", "strokeWidth": 1.3}, "encoding": {"y": {"field": "q3", "type": "quantitative"}, "y2": {"field": "hi"}, "color": {"field": "g", "type": "nominal", "scale": {"domain": ["t", "f", "v", "r"], "range": ["#1a1a1a", "#ec2227", "#ec2227", "#3a55b4"]}, "legend": null}}},
    {"mark": {"type": "tick", "orient": "horizontal", "size": 10, "thickness": 1.3}, "encoding": {"y": {"field": "lo", "type": "quantitative"}, "color": {"field": "g", "type": "nominal", "scale": {"domain": ["t", "f", "v", "r"], "range": ["#1a1a1a", "#ec2227", "#ec2227", "#3a55b4"]}, "legend": null}}},
    {"mark": {"type": "tick", "orient": "horizontal", "size": 10, "thickness": 1.3}, "encoding": {"y": {"field": "hi", "type": "quantitative"}, "color": {"field": "g", "type": "nominal", "scale": {"domain": ["t", "f", "v", "r"], "range": ["#1a1a1a", "#ec2227", "#ec2227", "#3a55b4"]}, "legend": null}}},
    {"mark": {"type": "bar", "width": 20, "filled": false, "strokeWidth": 1.3}, "encoding": {"y": {"field": "q1", "type": "quantitative"}, "y2": {"field": "q3"}, "color": {"field": "g", "type": "nominal", "scale": {"domain": ["t", "f", "v", "r"], "range": ["#1a1a1a", "#ec2227", "#ec2227", "#3a55b4"]}, "legend": null}}}
   ]},
  {"data": {"values": [
    {"x": -0.15, "y": 1.26, "g": "t"}, {"x": 0.25, "y": 1.19, "g": "t"}, {"x": -0.1, "y": 1.09, "g": "t"}, {"x": -0.12, "y": 0.98, "g": "t"}, {"x": 0.12, "y": 0.91, "g": "t"}, {"x": 0.17, "y": 0.79, "g": "t"}, {"x": -0.15, "y": 0.7, "g": "t"}, {"x": 0.05, "y": 0.65, "g": "t"}, {"x": 0.22, "y": 0.7, "g": "t"}, {"x": -0.05, "y": 0.58, "g": "t"}, {"x": 0.1, "y": 0.56, "g": "t"}, {"x": 0.0, "y": 0.83, "g": "t"}, {"x": -0.2, "y": 0.85, "g": "t"},
    {"x": 0.95, "y": 0.69, "g": "f"}, {"x": 1.1, "y": 0.66, "g": "f"}, {"x": 0.85, "y": 0.62, "g": "f"}, {"x": 1.0, "y": 0.56, "g": "f"}, {"x": 1.15, "y": 0.5, "g": "f"}, {"x": 0.9, "y": 0.45, "g": "f"}, {"x": 1.05, "y": 0.42, "g": "f"}, {"x": 0.88, "y": 0.35, "g": "f"}, {"x": 1.12, "y": 0.33, "g": "f"}, {"x": 0.98, "y": 0.3, "g": "f"}, {"x": 0.85, "y": 0.26, "g": "f"}, {"x": 1.1, "y": 0.22, "g": "f"}, {"x": 0.95, "y": 0.18, "g": "f"}, {"x": 1.05, "y": 0.14, "g": "f"}, {"x": 0.9, "y": 0.1, "g": "f"}, {"x": 1.0, "y": 0.06, "g": "f"},
    {"x": 1.95, "y": 0.61, "g": "v"}, {"x": 2.1, "y": 0.6, "g": "v"}, {"x": 1.85, "y": 0.56, "g": "v"}, {"x": 2.15, "y": 0.52, "g": "v"}, {"x": 1.95, "y": 0.48, "g": "v"}, {"x": 2.05, "y": 0.44, "g": "v"}, {"x": 1.85, "y": 0.4, "g": "v"}, {"x": 2.15, "y": 0.37, "g": "v"}, {"x": 2.0, "y": 0.34, "g": "v"}, {"x": 1.9, "y": 0.3, "g": "v"}, {"x": 2.1, "y": 0.27, "g": "v"}, {"x": 1.95, "y": 0.23, "g": "v"}, {"x": 2.05, "y": 0.2, "g": "v"},
    {"x": 2.95, "y": 0.97, "g": "r"}, {"x": 3.1, "y": 0.95, "g": "r"}, {"x": 2.85, "y": 0.92, "g": "r"}, {"x": 3.15, "y": 0.9, "g": "r"}, {"x": 3.0, "y": 0.86, "g": "r"}, {"x": 2.9, "y": 0.8, "g": "r"}, {"x": 3.1, "y": 0.75, "g": "r"}, {"x": 3.05, "y": 0.72, "g": "r"}, {"x": 2.95, "y": 0.7, "g": "r"}, {"x": 3.0, "y": 0.42, "g": "r"}, {"x": 2.91, "y": 1.85, "g": "r"}, {"x": 3.15, "y": 1.7, "g": "r"}
  ]}, "mark": {"type": "point", "shape": "circle", "filled": false, "size": 45, "strokeWidth": 1, "opacity": 0.85}, "encoding": {"color": {"field": "g", "type": "nominal", "scale": {"domain": ["t", "f", "v", "r"], "range": ["#8a8a8a", "#ec2227", "#ec2227", "#3a55b4"]}, "legend": null}}},
  {"data": {"values": [{"x": 0, "med": 0.83, "g": "t"}, {"x": 1, "med": 0.31, "g": "f"}, {"x": 2, "med": 0.37, "g": "v"}, {"x": 3, "med": 0.7, "g": "r"}]}, "mark": {"type": "tick", "orient": "horizontal", "size": 28, "thickness": 5}, "encoding": {"y": {"field": "med", "type": "quantitative"}, "color": {"field": "g", "type": "nominal", "scale": {"domain": ["t", "f", "v", "r"], "range": ["#111", "#ec2227", "#ec2227", "#3a55b4"]}, "legend": null}}}
 ]
},
{"width": 17, "height": 142, "data": {"values": []}, "mark": {"type": "point", "opacity": 0}, "encoding": {}},
{
 "width": 130, "height": 142,
 "title": {"text": "G", "dx": -4, "offset": 5},
 "encoding": {
  "x": {"field": "x", "type": "quantitative", "scale": {"domain": [0, 1], "nice": false, "zero": false}, "axis": null},
  "y": {"field": "y", "type": "quantitative", "scale": {"domain": [0, 100], "nice": false, "zero": false}, "axis": null}
 },
 "layer": [
  {"data": {"values": [{"x": 0.075, "y": 100.7, "x2": 0.075, "y2": -5}, {"x": 0.038, "y": 94.4, "x2": 0.154, "y2": 94.4}, {"x": 0.038, "y": 63.4, "x2": 0.154, "y2": 63.4}, {"x": 0.038, "y": 31, "x2": 0.154, "y2": 31}]}, "mark": {"type": "rule", "color": "#111", "strokeWidth": 2.5}, "encoding": {"x2": {"field": "x2"}, "y2": {"field": "y2"}}},
  {"data": {"values": [{"x": 0.075, "y": -7}]}, "mark": {"type": "point", "shape": "triangle-down", "filled": true, "size": 80, "color": "#111", "opacity": 1}, "encoding": {}},
  {"data": {"values": [{"x": 0.023, "y": 70.4, "x2": 0.146, "y2": 87.3}]}, "mark": {"type": "rect", "color": "#ec2227"}, "encoding": {"x2": {"field": "x2"}, "y2": {"field": "y2"}}},
  {"data": {"values": [{"x": 0.023, "y": 38.7, "x2": 0.146, "y2": 55.6}, {"x": 0.023, "y": 7, "x2": 0.146, "y2": 23.9}]}, "mark": {"type": "rect", "color": "#7f7f7f"}, "encoding": {"x2": {"field": "x2"}, "y2": {"field": "y2"}}},
  {"data": {"values": [{"x": 0.177, "y": 83.8, "t": "Day1: fear"}, {"x": 0.177, "y": 73.2, "t": "conditioning"}]}, "mark": {"type": "text", "fontSize": 12.5, "fontStyle": "italic", "align": "left", "color": "#ec2227"}, "encoding": {"text": {"field": "t"}}},
  {"data": {"values": [{"x": 0.177, "y": 47.9, "t": "Day2: retrieval"}, {"x": 0.177, "y": 16.9, "t": "Day3:retrieval"}]}, "mark": {"type": "text", "fontSize": 11.5, "fontStyle": "italic", "align": "left", "color": "#8a8a8a"}, "encoding": {"text": {"field": "t"}}},
  {"data": {"values": [{"x": 0.185, "y": -1.4, "t": "+rimonabant"}, {"x": 0.154, "y": -13.4, "t": "(2h prior each day)"}]}, "mark": {"type": "text", "fontSize": 11.5, "fontStyle": "italic", "align": "left", "color": "#111"}, "encoding": {"text": {"field": "t"}}}
 ]
},
{"width": 15, "height": 142, "data": {"values": []}, "mark": {"type": "point", "opacity": 0}, "encoding": {}},
{
 "width": 96, "height": 142,
 "view": {"stroke": "#555", "strokeWidth": 1.5},
 "encoding": {
  "x": {"field": "x", "type": "quantitative", "scale": {"domain": [-0.35, 3.4], "nice": false, "zero": false}, "axis": {"values": [0, 1, 2, 3], "domain": false, "labelExpr": "datum.value == 0 ? 'B' : datum.label", "labelPadding": 3, "title": "Tones", "titleX": 34, "titleY": 28, "titleAlign": "center", "titleBaseline": "middle"}},
  "y": {"field": "y", "type": "quantitative", "scale": {"domain": [0, 100], "nice": false, "zero": false}, "axis": {"values": [0, 20, 40, 60, 80, 100], "domain": false, "title": "Freezing (%)"}}
 },
 "layer": [
  {"data": {"values": [{"x": 0, "y": 0, "y2": 1.5}, {"x": 1, "y": 0, "y2": 3}, {"x": 2, "y": 13, "y2": 28}, {"x": 3, "y": 29, "y2": 45}]}, "mark": {"type": "area", "color": "#f7b48f", "opacity": 0.6}, "encoding": {"y2": {"field": "y2"}}},
  {"data": {"values": [{"x": 0, "y": 0, "y2": 1}, {"x": 1, "y": 0, "y2": 2}, {"x": 2, "y": 8, "y2": 30}, {"x": 3, "y": 25, "y2": 38}]}, "mark": {"type": "area", "color": "#5b4ea0", "opacity": 0.35}, "encoding": {"y2": {"field": "y2"}}},
  {"data": {"values": [{"x": 0, "y": 0.5}, {"x": 1, "y": 0.5}, {"x": 2, "y": 23}, {"x": 3, "y": 31}]}, "mark": {"type": "line", "color": "#6656a6", "strokeWidth": 1.5, "point": {"shape": "square", "filled": true, "size": 40, "color": "#5b55a8"}}, "encoding": {}},
  {"data": {"values": [{"x": 0, "y": 0.5}, {"x": 1, "y": 1.5}, {"x": 2, "y": 19}, {"x": 3, "y": 34.5}]}, "mark": {"type": "line", "color": "#ec2227", "strokeWidth": 1.5, "point": {"filled": true, "size": 45, "color": "#ec2227"}}, "encoding": {}},
  {"data": {"values": [{"x": 1.64, "y": -19.5, "x2": 2.98, "y2": -19.5}]}, "mark": {"type": "rule", "color": "#333", "strokeWidth": 1}, "encoding": {"x2": {"field": "x2"}, "y2": {"field": "y2"}}},
  {"data": {"values": [{"x": 3.02, "y": -19.5}]}, "mark": {"type": "point", "shape": "triangle-right", "filled": true, "size": 18, "color": "#333", "opacity": 1}, "encoding": {}},
  {"data": {"values": [{"x": -0.13, "y": 90, "t": "Day1"}]}, "mark": {"type": "text", "fontSize": 12.5, "fontStyle": "italic", "align": "left", "color": "#111"}, "encoding": {"text": {"field": "t"}}},
  {"data": {"values": [{"x": -0.08, "y": 39.4, "t": "+rimonabant"}]}, "mark": {"type": "text", "fontSize": 12.5, "fontStyle": "italic", "align": "left", "color": "#4b50b0"}, "encoding": {"text": {"field": "t"}}},
  {"data": {"values": [{"x": -0.04, "y": 19.7, "t": "vehicle"}]}, "mark": {"type": "text", "fontSize": 12.5, "align": "left", "color": "#ec2227"}, "encoding": {"text": {"field": "t"}}}
 ]
},
{
 "width": 55, "height": 142,
 "view": {"stroke": "#555", "strokeWidth": 1.5},
 "encoding": {
  "x": {"field": "x", "type": "quantitative", "scale": {"domain": [-0.38, 1.36], "nice": false, "zero": false}, "axis": {"values": [0, 1], "domain": false, "title": null, "labelExpr": "datum.value == 0 ? 'V' : 'R'", "labelFontSize": 16, "labelPadding": 9, "labelColor": {"condition": {"test": "datum.value == 0", "value": "#ec2227"}, "value": "#3a55b4"}}},
  "y": {"field": "y", "type": "quantitative", "scale": {"domain": [0, 100], "nice": false, "zero": false}, "axis": null}
 },
 "layer": [
  {"data": {"values": [{"x": 0, "lo": 41, "q1": 60.6, "med": 67.6, "q3": 79.8, "hi": 87, "g": "V"}, {"x": 1, "lo": 33.6, "q1": 47, "med": 54.2, "q3": 75.4, "hi": 97, "g": "R"}]},
   "layer": [
    {"mark": {"type": "rule", "strokeWidth": 1.3}, "encoding": {"y": {"field": "lo", "type": "quantitative"}, "y2": {"field": "q1"}, "color": {"field": "g", "type": "nominal", "scale": {"domain": ["V", "R"], "range": ["#ec2227", "#3a55b4"]}, "legend": null}}},
    {"mark": {"type": "rule", "strokeWidth": 1.3}, "encoding": {"y": {"field": "q3", "type": "quantitative"}, "y2": {"field": "hi"}, "color": {"field": "g", "type": "nominal", "scale": {"domain": ["V", "R"], "range": ["#ec2227", "#3a55b4"]}, "legend": null}}},
    {"mark": {"type": "tick", "orient": "horizontal", "size": 10, "thickness": 1.3}, "encoding": {"y": {"field": "lo", "type": "quantitative"}, "color": {"field": "g", "type": "nominal", "scale": {"domain": ["V", "R"], "range": ["#ec2227", "#3a55b4"]}, "legend": null}}},
    {"mark": {"type": "tick", "orient": "horizontal", "size": 10, "thickness": 1.3}, "encoding": {"y": {"field": "hi", "type": "quantitative"}, "color": {"field": "g", "type": "nominal", "scale": {"domain": ["V", "R"], "range": ["#ec2227", "#3a55b4"]}, "legend": null}}},
    {"mark": {"type": "bar", "width": 21, "filled": false, "strokeWidth": 1.3}, "encoding": {"y": {"field": "q1", "type": "quantitative"}, "y2": {"field": "q3"}, "color": {"field": "g", "type": "nominal", "scale": {"domain": ["V", "R"], "range": ["#ec2227", "#3a55b4"]}, "legend": null}}}
   ]},
  {"data": {"values": [
    {"x": -0.2, "y": 87.5, "g": "V"}, {"x": 0.25, "y": 86.6, "g": "V"}, {"x": 0.1, "y": 77, "g": "V"}, {"x": -0.15, "y": 71, "g": "V"}, {"x": 0.05, "y": 71, "g": "V"}, {"x": 0.28, "y": 71, "g": "V"}, {"x": -0.1, "y": 64, "g": "V"}, {"x": 0.22, "y": 62, "g": "V"}, {"x": 0.05, "y": 57, "g": "V"}, {"x": -0.22, "y": 42, "g": "V"},
    {"x": 1, "y": 97, "g": "R"}, {"x": 1.0, "y": 71, "g": "R"}, {"x": 0.95, "y": 64, "g": "R"}, {"x": 0.8, "y": 52, "g": "R"}, {"x": 1.2, "y": 52, "g": "R"}, {"x": 0.85, "y": 47, "g": "R"}, {"x": 1.0, "y": 46, "g": "R"}, {"x": 1.15, "y": 47, "g": "R"}, {"x": 1, "y": 34, "g": "R"}
  ]}, "mark": {"type": "point", "shape": "circle", "filled": false, "size": 45, "strokeWidth": 1, "opacity": 0.85}, "encoding": {"color": {"field": "g", "type": "nominal", "scale": {"domain": ["V", "R"], "range": ["#ec2227", "#3a55b4"]}, "legend": null}}},
  {"data": {"values": [{"x": 0, "med": 67.6, "g": "V"}, {"x": 1, "med": 54.2, "g": "R"}]}, "mark": {"type": "tick", "orient": "horizontal", "size": 28, "thickness": 5}, "encoding": {"y": {"field": "med", "type": "quantitative"}, "color": {"field": "g", "type": "nominal", "scale": {"domain": ["V", "R"], "range": ["#ec2227", "#3a55b4"]}, "legend": null}}},
  {"data": {"values": [{"x": -0.3, "y": 9, "t": "Day2"}]}, "mark": {"type": "text", "fontSize": 12.5, "fontStyle": "italic", "align": "left", "color": "#111"}, "encoding": {"text": {"field": "t"}}}
 ]
},
{
 "width": 56, "height": 142,
 "view": {"stroke": "#555", "strokeWidth": 1.5},
 "encoding": {
  "x": {"field": "x", "type": "quantitative", "scale": {"domain": [-0.49, 1.44], "nice": false, "zero": false}, "axis": {"values": [0, 1], "domain": false, "title": null, "labelExpr": "datum.value == 0 ? 'V' : 'R'", "labelFontSize": 16, "labelPadding": 9, "labelColor": {"condition": {"test": "datum.value == 0", "value": "#ec2227"}, "value": "#3a55b4"}}},
  "y": {"field": "y", "type": "quantitative", "scale": {"domain": [0, 100], "nice": false, "zero": false}, "axis": null}
 },
 "layer": [
  {"data": {"values": [{"x": 0, "lo": 31.7, "q1": 49.3, "med": 62.9, "q3": 82.4, "hi": 88, "g": "V"}, {"x": 1, "lo": 45.3, "q1": 50, "med": 68.3, "q3": 92, "hi": 98, "g": "R"}]},
   "layer": [
    {"mark": {"type": "rule", "strokeWidth": 1.3}, "encoding": {"y": {"field": "lo", "type": "quantitative"}, "y2": {"field": "q1"}, "color": {"field": "g", "type": "nominal", "scale": {"domain": ["V", "R"], "range": ["#ec2227", "#3a55b4"]}, "legend": null}}},
    {"mark": {"type": "rule", "strokeWidth": 1.3}, "encoding": {"y": {"field": "q3", "type": "quantitative"}, "y2": {"field": "hi"}, "color": {"field": "g", "type": "nominal", "scale": {"domain": ["V", "R"], "range": ["#ec2227", "#3a55b4"]}, "legend": null}}},
    {"mark": {"type": "tick", "orient": "horizontal", "size": 10, "thickness": 1.3}, "encoding": {"y": {"field": "lo", "type": "quantitative"}, "color": {"field": "g", "type": "nominal", "scale": {"domain": ["V", "R"], "range": ["#ec2227", "#3a55b4"]}, "legend": null}}},
    {"mark": {"type": "tick", "orient": "horizontal", "size": 10, "thickness": 1.3}, "encoding": {"y": {"field": "hi", "type": "quantitative"}, "color": {"field": "g", "type": "nominal", "scale": {"domain": ["V", "R"], "range": ["#ec2227", "#3a55b4"]}, "legend": null}}},
    {"mark": {"type": "bar", "width": 21, "filled": false, "strokeWidth": 1.3}, "encoding": {"y": {"field": "q1", "type": "quantitative"}, "y2": {"field": "q3"}, "color": {"field": "g", "type": "nominal", "scale": {"domain": ["V", "R"], "range": ["#ec2227", "#3a55b4"]}, "legend": null}}}
   ]},
  {"data": {"values": [
    {"x": -0.2, "y": 87.5, "g": "V"}, {"x": 0.15, "y": 86, "g": "V"}, {"x": 0.1, "y": 67.6, "g": "V"}, {"x": -0.1, "y": 64, "g": "V"}, {"x": -0.3, "y": 52, "g": "V"}, {"x": 0.25, "y": 52, "g": "V"}, {"x": 0.0, "y": 62.9, "g": "V"}, {"x": 0, "y": 31.7, "g": "V"},
    {"x": 0.78, "y": 97.4, "g": "R"}, {"x": 1.1, "y": 97, "g": "R"}, {"x": 0.8, "y": 91.5, "g": "R"}, {"x": 1.05, "y": 91, "g": "R"}, {"x": 0.9, "y": 71, "g": "R"}, {"x": 0.75, "y": 64, "g": "R"}, {"x": 1.15, "y": 62, "g": "R"}, {"x": 0.8, "y": 51, "g": "R"}, {"x": 1.1, "y": 47, "g": "R"}
  ]}, "mark": {"type": "point", "shape": "circle", "filled": false, "size": 45, "strokeWidth": 1, "opacity": 0.85}, "encoding": {"color": {"field": "g", "type": "nominal", "scale": {"domain": ["V", "R"], "range": ["#ec2227", "#3a55b4"]}, "legend": null}}},
  {"data": {"values": [{"x": 0, "med": 62.9, "g": "V"}, {"x": 1, "med": 68.3, "g": "R"}]}, "mark": {"type": "tick", "orient": "horizontal", "size": 28, "thickness": 5}, "encoding": {"y": {"field": "med", "type": "quantitative"}, "color": {"field": "g", "type": "nominal", "scale": {"domain": ["V", "R"], "range": ["#ec2227", "#3a55b4"]}, "legend": null}}},
  {"data": {"values": [{"x": -0.15, "y": 10, "t": "Day3"}]}, "mark": {"type": "text", "fontSize": 12.5, "fontStyle": "italic", "align": "left", "color": "#111"}, "encoding": {"text": {"field": "t"}}}
 ]
},
{"width": 41, "height": 142, "data": {"values": []}, "mark": {"type": "point", "opacity": 0}, "encoding": {}},
{
 "width": 130, "height": 142,
 "title": {"text": "H", "dx": -34, "offset": -8},
 "resolve": {"scale": {"color": "independent"}},
 "encoding": {
  "x": {"field": "x", "type": "quantitative", "scale": {"domain": [-0.58, 3.64], "nice": false, "zero": false}, "axis": {"values": [0, 1, 2, 3], "title": null, "labelExpr": "[['tone'], ['+fear', 'conditioning'], ['vehicle'], ['+rimb']][datum.value]", "labelAngle": -45, "labelFontSize": 10.5, "labelLineHeight": 10.5, "labelBaseline": "middle", "labelPadding": 2}},
  "y": {"field": "y", "type": "quantitative", "scale": {"domain": [0, 3], "nice": false, "zero": false}, "axis": {"values": [0, 1, 2, 3], "title": "IPSC Amplitude (nA)", "titlePadding": 4}}
 },
 "layer": [
  {"data": {"values": [{"x": 0.52, "y": 0, "x2": 3.64, "y2": 3.1}]}, "mark": {"type": "rect", "color": "#d3d3d3"}, "encoding": {"x2": {"field": "x2"}, "y2": {"field": "y2"}}},
  {"data": {"values": [{"x": 0.54, "y": 3.22, "t": "+fear conditioning"}]}, "mark": {"type": "text", "fontSize": 10.5, "fontStyle": "italic", "align": "left", "color": "#222"}, "encoding": {"text": {"field": "t"}}},
  {"data": {"values": [
    {"x": 0, "y": 2.74, "x2": 0, "y2": 2.8}, {"x": 0, "y": 2.8, "x2": 1.92, "y2": 2.8}, {"x": 1.92, "y": 2.8, "x2": 1.92, "y2": 0.94},
    {"x": 0, "y": 2.62, "x2": 0, "y2": 2.68}, {"x": 0, "y": 2.68, "x2": 0.92, "y2": 2.68}, {"x": 0.92, "y": 2.68, "x2": 0.92, "y2": 0.84},
    {"x": 1.03, "y": 0.84, "x2": 1.03, "y2": 2.87}, {"x": 1.03, "y": 2.87, "x2": 3.0, "y2": 2.87}, {"x": 3.0, "y": 2.87, "x2": 3.0, "y2": 2.78},
    {"x": 2.06, "y": 0.94, "x2": 2.06, "y2": 2.56}, {"x": 2.06, "y": 2.56, "x2": 3.0, "y2": 2.56}, {"x": 3.0, "y": 2.56, "x2": 3.0, "y2": 2.52}
  ]}, "mark": {"type": "rule", "color": "#666", "strokeWidth": 1.1}, "encoding": {"x2": {"field": "x2"}, "y2": {"field": "y2"}}},
  {"data": {"values": [{"x": 0.6, "y": 2.92, "t": "*"}, {"x": 0.51, "y": 2.56, "t": "****"}, {"x": 2.14, "y": 2.93, "t": "***"}, {"x": 2.54, "y": 2.62, "t": "*"}]}, "mark": {"type": "text", "fontSize": 12, "color": "#444"}, "encoding": {"text": {"field": "t"}}},
  {"data": {"values": [{"x": 0, "lo": 0.3, "q1": 0.815, "med": 1.155, "q3": 1.62, "hi": 2.52, "g": "t"}, {"x": 1, "lo": 0.11, "q1": 0.23, "med": 0.39, "q3": 0.68, "hi": 0.8, "g": "f"}, {"x": 2, "lo": 0.23, "q1": 0.33, "med": 0.5, "q3": 0.77, "hi": 0.91, "g": "v"}, {"x": 3, "lo": 0.42, "q1": 0.6, "med": 0.86, "q3": 1.85, "hi": 2.5, "g": "r"}]},
   "layer": [
    {"mark": {"type": "rule", "strokeWidth": 1.3}, "encoding": {"y": {"field": "lo", "type": "quantitative"}, "y2": {"field": "q1"}, "color": {"field": "g", "type": "nominal", "scale": {"domain": ["t", "f", "v", "r"], "range": ["#1a1a1a", "#ec2227", "#ec2227", "#3a55b4"]}, "legend": null}}},
    {"mark": {"type": "rule", "strokeWidth": 1.3}, "encoding": {"y": {"field": "q3", "type": "quantitative"}, "y2": {"field": "hi"}, "color": {"field": "g", "type": "nominal", "scale": {"domain": ["t", "f", "v", "r"], "range": ["#1a1a1a", "#ec2227", "#ec2227", "#3a55b4"]}, "legend": null}}},
    {"mark": {"type": "tick", "orient": "horizontal", "size": 10, "thickness": 1.3}, "encoding": {"y": {"field": "lo", "type": "quantitative"}, "color": {"field": "g", "type": "nominal", "scale": {"domain": ["t", "f", "v", "r"], "range": ["#1a1a1a", "#ec2227", "#ec2227", "#3a55b4"]}, "legend": null}}},
    {"mark": {"type": "tick", "orient": "horizontal", "size": 10, "thickness": 1.3}, "encoding": {"y": {"field": "hi", "type": "quantitative"}, "color": {"field": "g", "type": "nominal", "scale": {"domain": ["t", "f", "v", "r"], "range": ["#1a1a1a", "#ec2227", "#ec2227", "#3a55b4"]}, "legend": null}}},
    {"mark": {"type": "bar", "width": 17, "filled": false, "strokeWidth": 1.3}, "encoding": {"y": {"field": "q1", "type": "quantitative"}, "y2": {"field": "q3"}, "color": {"field": "g", "type": "nominal", "scale": {"domain": ["t", "f", "v", "r"], "range": ["#1a1a1a", "#ec2227", "#ec2227", "#3a55b4"]}, "legend": null}}}
   ]},
  {"data": {"values": [
    {"x": 0, "y": 2.5, "g": "t"}, {"x": -0.25, "y": 1.92, "g": "t"}, {"x": 0.14, "y": 1.92, "g": "t"}, {"x": 0.22, "y": 1.85, "g": "t"}, {"x": -0.1, "y": 1.75, "g": "t"}, {"x": 0.05, "y": 1.65, "g": "t"}, {"x": -0.2, "y": 1.6, "g": "t"}, {"x": 0.18, "y": 1.55, "g": "t"}, {"x": -0.05, "y": 1.45, "g": "t"}, {"x": 0.1, "y": 1.35, "g": "t"}, {"x": -0.2, "y": 1.2, "g": "t"}, {"x": 0.2, "y": 1.15, "g": "t"}, {"x": 0.0, "y": 1.1, "g": "t"}, {"x": -0.15, "y": 1.0, "g": "t"}, {"x": 0.15, "y": 0.92, "g": "t"}, {"x": -0.05, "y": 0.85, "g": "t"}, {"x": 0.12, "y": 0.65, "g": "t"}, {"x": -0.18, "y": 0.55, "g": "t"}, {"x": 0.05, "y": 0.5, "g": "t"}, {"x": 0, "y": 0.3, "g": "t"},
    {"x": 1.0, "y": 0.8, "g": "f"}, {"x": 0.85, "y": 0.72, "g": "f"}, {"x": 1.15, "y": 0.65, "g": "f"}, {"x": 0.9, "y": 0.58, "g": "f"}, {"x": 1.1, "y": 0.5, "g": "f"}, {"x": 1.0, "y": 0.45, "g": "f"}, {"x": 0.85, "y": 0.4, "g": "f"}, {"x": 1.15, "y": 0.38, "g": "f"}, {"x": 0.95, "y": 0.35, "g": "f"}, {"x": 1.05, "y": 0.3, "g": "f"}, {"x": 0.9, "y": 0.25, "g": "f"}, {"x": 1.1, "y": 0.2, "g": "f"}, {"x": 1.0, "y": 0.15, "g": "f"}, {"x": 0.95, "y": 0.1, "g": "f"}, {"x": 1.05, "y": 0.05, "g": "f"}, {"x": 1.15, "y": 0.55, "g": "f"}, {"x": 0.88, "y": 0.42, "g": "f"},
    {"x": 2.0, "y": 0.91, "g": "v"}, {"x": 1.85, "y": 0.85, "g": "v"}, {"x": 2.15, "y": 0.75, "g": "v"}, {"x": 1.9, "y": 0.68, "g": "v"}, {"x": 2.1, "y": 0.6, "g": "v"}, {"x": 2.0, "y": 0.55, "g": "v"}, {"x": 1.85, "y": 0.5, "g": "v"}, {"x": 2.15, "y": 0.47, "g": "v"}, {"x": 1.95, "y": 0.42, "g": "v"}, {"x": 2.05, "y": 0.35, "g": "v"}, {"x": 1.9, "y": 0.3, "g": "v"}, {"x": 2.1, "y": 0.25, "g": "v"},
    {"x": 2.85, "y": 2.5, "g": "r"}, {"x": 3.15, "y": 2.5, "g": "r"}, {"x": 3.0, "y": 2.18, "g": "r"}, {"x": 3.0, "y": 1.99, "g": "r"}, {"x": 2.9, "y": 1.62, "g": "r"}, {"x": 3.1, "y": 1.62, "g": "r"}, {"x": 2.95, "y": 1.45, "g": "r"}, {"x": 3.05, "y": 1.4, "g": "r"}, {"x": 2.85, "y": 0.95, "g": "r"}, {"x": 3.15, "y": 0.9, "g": "r"}, {"x": 3.0, "y": 0.87, "g": "r"}, {"x": 2.9, "y": 0.82, "g": "r"}, {"x": 3.1, "y": 0.8, "g": "r"}, {"x": 2.95, "y": 0.72, "g": "r"}, {"x": 3.05, "y": 0.65, "g": "r"}, {"x": 2.9, "y": 0.6, "g": "r"}, {"x": 3.1, "y": 0.55, "g": "r"}, {"x": 3.0, "y": 0.5, "g": "r"}, {"x": 2.95, "y": 0.44, "g": "r"}
  ]}, "mark": {"type": "point", "shape": "circle", "filled": false, "size": 45, "strokeWidth": 1, "opacity": 0.85}, "encoding": {"color": {"field": "g", "type": "nominal", "scale": {"domain": ["t", "f", "v", "r"], "range": ["#8a8a8a", "#ec2227", "#ec2227", "#3a55b4"]}, "legend": null}}},
  {"data": {"values": [{"x": 0, "med": 1.155, "g": "t"}, {"x": 1, "med": 0.39, "g": "f"}, {"x": 2, "med": 0.5, "g": "v"}, {"x": 3, "med": 0.86, "g": "r"}]}, "mark": {"type": "tick", "orient": "horizontal", "size": 27, "thickness": 5}, "encoding": {"y": {"field": "med", "type": "quantitative"}, "color": {"field": "g", "type": "nominal", "scale": {"domain": ["t", "f", "v", "r"], "range": ["#111", "#ec2227", "#ec2227", "#3a55b4"]}, "legend": null}}}
 ]
}
]
}
]
}
